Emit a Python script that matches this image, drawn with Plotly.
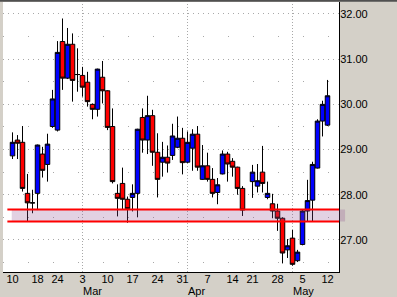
import plotly.graph_objects as go

dates = [
    "2003-02-10", "2003-02-11", "2003-02-12", "2003-02-13", "2003-02-14",
    "2003-02-18", "2003-02-19", "2003-02-20", "2003-02-21",
    "2003-02-24", "2003-02-25", "2003-02-26", "2003-02-27", "2003-02-28",
    "2003-03-03", "2003-03-04", "2003-03-05", "2003-03-06", "2003-03-07",
    "2003-03-10", "2003-03-11", "2003-03-12", "2003-03-13", "2003-03-14",
    "2003-03-17", "2003-03-18", "2003-03-19", "2003-03-20", "2003-03-21",
    "2003-03-24", "2003-03-25", "2003-03-26", "2003-03-27", "2003-03-28",
    "2003-03-31", "2003-04-01", "2003-04-02", "2003-04-03", "2003-04-04",
    "2003-04-07", "2003-04-08", "2003-04-09", "2003-04-10", "2003-04-11",
    "2003-04-14", "2003-04-15", "2003-04-16", "2003-04-17",
    "2003-04-21", "2003-04-22", "2003-04-23", "2003-04-24", "2003-04-25",
    "2003-04-28", "2003-04-29", "2003-04-30", "2003-05-01", "2003-05-02",
    "2003-05-05", "2003-05-06", "2003-05-07", "2003-05-08", "2003-05-09",
    "2003-05-12",
]

open_ = [28.86, 29.21, 29.16, 28.03, 27.82, 28.03, 28.90, 28.67, 29.51, 29.43,
         31.39, 30.58, 31.33, 30.66, 30.64, 30.49, 30.00, 29.89, 30.60, 30.30,
         29.51, 28.03, 28.25, 27.90, 27.94, 28.03, 29.71, 29.21, 29.75, 28.94,
         28.72, 28.83, 28.87, 29.05, 29.25, 28.72, 29.03, 29.34, 28.34, 28.64,
         28.34, 28.05, 28.46, 28.90, 28.74, 28.61, 28.14, None, 28.29, 28.19,
         28.50, 27.94, 27.80, 27.64, 27.48, 26.78, 27.04, 26.54, 26.90, 27.64,
         27.88, 28.59, 29.63, 29.54]
high = [29.38, 29.32, 29.52, 28.46, 28.11, 29.11, 29.06, 29.35, 30.32, 31.40,
        31.90, 31.69, 31.57, 31.24, 30.83, 30.72, 30.02, 30.79, 30.96, 30.31,
        29.91, 28.23, 28.60, 27.96, 28.23, 29.46, 29.91, 30.19, 29.88, 29.36,
        29.17, 29.09, 29.57, 29.73, 29.48, 29.40, 29.45, 29.52, 29.10, 28.93,
        28.59, 28.37, 28.98, 28.95, 28.81, 28.62, 28.19, None, 28.66, 28.68,
        29.08, 28.29, 28.02, 27.80, 27.50, 27.02, 27.22, 26.78, 27.68, 28.33,
        28.73, 29.67, 30.08, 30.54]
low = [28.79, 28.79, 28.07, 27.40, 27.59, 27.66, 28.38, 28.29, 29.48, 29.40,
       30.32, 30.56, 30.06, 30.28, 30.17, 29.95, 29.67, 29.73, 30.02, 29.43,
       28.25, 27.52, 27.68, 27.38, 27.63, 27.50, 28.93, 28.90, 28.64, 27.94,
       28.40, 28.49, 28.77, 29.03, 28.45, 28.70, 28.53, 28.53, 28.33, 28.29,
       27.94, 27.79, 28.45, 28.29, 28.40, 28.00, 27.53, None, 27.93, 28.05,
       28.05, 27.90, 27.48, 27.20, 26.48, 26.60, 26.43, 26.51, 26.88, 27.40,
       27.40, 28.58, 29.29, 29.52]
close = [29.16, 29.14, 28.14, 27.82, 27.82, 29.10, 28.54, 29.12, 30.12, 31.15,
         30.58, 31.33, 30.53, 30.66, 30.38, 30.06, 29.89, 30.78, 30.30, 29.49,
         28.29, 27.92, 27.90, 27.69, 28.03, 29.45, 29.21, 29.75, 28.94, 28.34,
         28.83, 28.70, 29.30, 29.25, 28.71, 29.16, 29.34, 28.61, 28.64, 28.34,
         28.03, 28.22, 28.90, 28.68, 28.61, 28.14, 27.66, None, 28.50, 28.31,
         28.25, 28.03, 27.64, 27.48, 26.71, 26.87, 26.46, 26.73, 27.64, 27.87,
         28.67, 29.63, 30.00, 30.19]

tick_dates = ["2003-02-10", "2003-02-18", "2003-02-24", "2003-03-03", "2003-03-10",
              "2003-03-17", "2003-03-24", "2003-03-31", "2003-04-07", "2003-04-14",
              "2003-04-21", "2003-04-28", "2003-05-05", "2003-05-12"]
tick_text = ["10", "18", "24", "3", "10", "17", "24", "31", "7", "14", "21", "28", "5", "12"]

month_starts = ["2003-03-03", "2003-04-01", "2003-05-01"]
month_names = ["Mar", "Apr", "May"]

band_low, band_high = 27.41, 27.675

FONT = "Liberation Sans, Arial, sans-serif"

fig = go.Figure()
fig.add_trace(go.Candlestick(
    x=dates, open=open_, high=high, low=low, close=close,
    increasing=dict(fillcolor="#0000ff", line=dict(color="#000000", width=1)),
    decreasing=dict(fillcolor="#ff0000", line=dict(color="#000000", width=1)),
    whiskerwidth=0, hoverinfo="skip", showlegend=False,
))

shapes = []
for m in month_starts:
    shapes.append(dict(type="line", xref="x", yref="paper", x0=m, x1=m, y0=0, y1=1,
                       line=dict(color="#a8a8a8", width=1, dash="1px,2px"), layer="below"))
# support band
shapes.append(dict(type="rect", xref="paper", yref="y", x0=0.026, x1=1.018,
                   y0=band_low, y1=band_high, fillcolor="rgba(140,70,140,0.25)",
                   line=dict(width=0), layer="above"))
for yv in (band_low, band_high):
    shapes.append(dict(type="line", xref="paper", yref="y", x0=0.013, x1=1.0,
                       y0=yv, y1=yv, line=dict(color="#ff0000", width=2), layer="above"))
# top frame line
shapes.append(dict(type="line", xref="paper", yref="paper", x0=-0.02, x1=1.2,
                   y0=1.0045, y1=1.0045, line=dict(color="#505050", width=2), layer="above"))

annotations = []
for m, name in zip(month_starts, month_names):
    annotations.append(dict(x=m, xref="x", y=0, yref="paper", text=name, showarrow=False,
                            xanchor="left", yanchor="top", yshift=-11, xshift=-2,
                            font=dict(family=FONT, size=11, color="#000000")))

fig.update_layout(
    width=397, height=297,
    margin=dict(l=3, r=58, t=2, b=25),
    paper_bgcolor="#d4d0c8",
    plot_bgcolor="#ffffff",
    boxgap=0.1, boxgroupgap=0,
    shapes=shapes,
    annotations=annotations,
    showlegend=False,
    font=dict(family=FONT, size=11, color="#000000"),
    xaxis=dict(
        type="category", categoryorder="array", categoryarray=dates,
        range=[-1.9, 65.3], rangeslider=dict(visible=False),
        tickmode="array", tickvals=tick_dates, ticktext=tick_text,
        showgrid=False, zeroline=False,
        showline=True, linecolor="#000000", linewidth=1,
        ticks="", ticklabelstandoff=-3,
        tickfont=dict(family=FONT, size=11, color="#000000"),
        fixedrange=True,
    ),
    yaxis=dict(
        side="right", range=[26.29, 32.265], dtick=1, tick0=27, tickformat=".2f",
        showgrid=True, gridcolor="#a8a8a8", gridwidth=1, griddash="1px,4px",
        minor=dict(dtick=0.5, tick0=26.5, showgrid=True, gridcolor="#a8a8a8",
                   griddash="1px,24px", gridwidth=1),
        zeroline=False, showline=True, linecolor="#000000", linewidth=1,
        ticks="", ticklabelstandoff=-2,
        tickfont=dict(family=FONT, size=11, color="#000000"),
        fixedrange=True,
    ),
)

fig.write_html("out.html")
